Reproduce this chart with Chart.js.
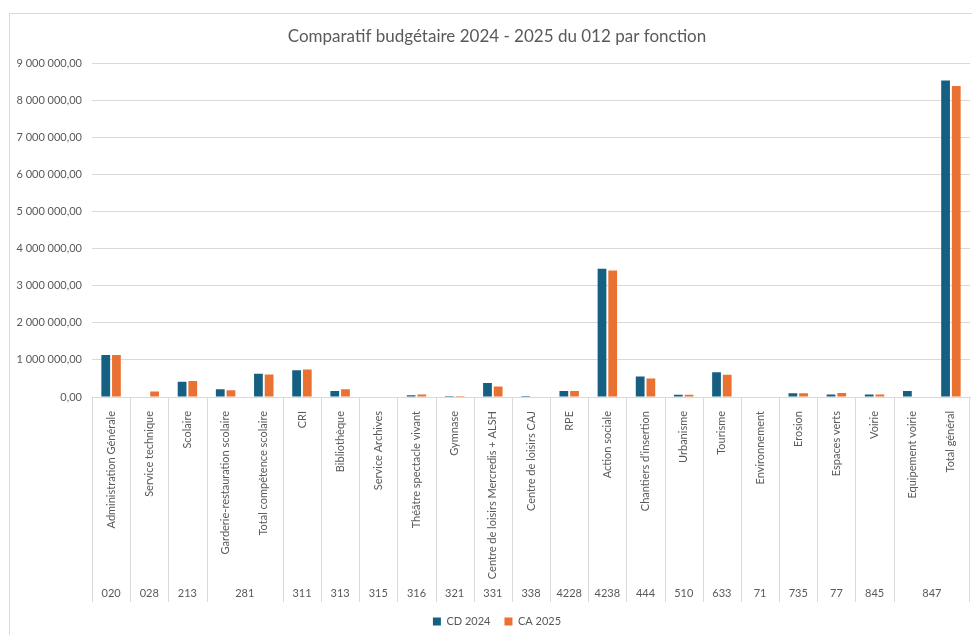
<!DOCTYPE html>
<html>
<head>
<meta charset="utf-8">
<title>Comparatif budgétaire 2024 - 2025</title>
<script src="https://cdn.jsdelivr.net/npm/chart.js@4.4.1/dist/chart.umd.min.js"></script>
<style>
    body { margin: 0; background: #fff; overflow: hidden; }
    .chart-container { position: relative; width: 972px; height: 635px; }
</style>
</head>
<body>
<div class="chart-container">
    <canvas id="budgetChart"></canvas>
</div>
<script>
// Chart data
const categories = [
    'Administration Générale', 'Service technique', 'Scolaire',
    'Garderie-restauration scolaire', 'Total compétence scolaire', 'CRI',
    'Bibliothèque', 'Service Archives', 'Théâtre spectacle vivant', 'Gymnase',
    'Centre de loisirs Mercredis + ALSH', 'Centre de loisirs CAJ', 'RPE',
    'Action sociale', 'Chantiers d\u2019insertion', 'Urbanisme', 'Tourisme',
    'Environnement', 'Erosion', 'Espaces verts', 'Voirie', 'Equipement voirie',
    'Total général'
];
const groupCodes = ['020', '028', '213', '281', '311', '313', '315', '316', '321', '331',
    '338', '4228', '4238', '444', '510', '633', '71', '735', '77', '845', '847'];
const groupSpans = [1, 1, 1, 2, 1, 1, 1, 1, 1, 1, 1, 1, 1, 1, 1, 1, 1, 1, 1, 1, 2];

const cd2024 = [1135000, 0, 410000, 210000, 630000, 720000, 160000, 0, 50000, 30000,
    380000, 30000, 160000, 3460000, 550000, 60000, 670000, 0, 100000, 70000, 70000,
    160000, 8540000];
const ca2025 = [1130000, 150000, 430000, 180000, 610000, 740000, 210000, 0, 70000, 30000,
    280000, 0, 160000, 3410000, 500000, 60000, 600000, 0, 100000, 110000, 70000,
    0, 8390000];

const textColor = '#595959';
const gridColor = '#d9d9d9';
const fontFamily = 'Lato, "Open Sans", sans-serif';

// French number format: 9 000 000,00
function formatAmount(value) {
    const parts = value.toFixed(2).split('.');
    return parts[0].replace(/\B(?=(\d{3})+(?!\d))/g, ' ') + ',' + parts[1];
}

// Frame + white background
const framePlugin = {
    id: 'frame',
    beforeDraw(chart) {
        const ctx = chart.ctx;
        ctx.save();
        ctx.fillStyle = '#fff';
        ctx.fillRect(0, 0, chart.width, chart.height);
        ctx.strokeStyle = gridColor;
        ctx.lineWidth = 1;
        ctx.strokeRect(9.5, 13.5, chart.width + 20, chart.height + 20);
        ctx.restore();
    }
};

// The original frame is wider than the window: centre title & legend on it
const recentrePlugin = {
    id: 'recentre',
    afterLayout(chart) {
        [chart.titleBlock, chart.legend].forEach(box => {
            if (box) {
                box.left += 12;
                box.right += 12;
            }
        });
    }
};

// Second level of the category axis (codes) with separators
const groupAxisPlugin = {
    id: 'groupAxis',
    afterDraw(chart) {
        const x = chart.scales.x;
        const ctx = chart.ctx;
        const half = (x.getPixelForValue(1) - x.getPixelForValue(0)) / 2;
        const top = chart.chartArea.bottom;
        const bottom = x.bottom;
        ctx.save();
        ctx.strokeStyle = gridColor;
        ctx.lineWidth = 1;
        ctx.fillStyle = textColor;
        ctx.font = '11px ' + fontFamily;
        ctx.textAlign = 'center';
        ctx.textBaseline = 'middle';
        let start = 0;
        groupSpans.forEach((span, i) => {
            const left = x.getPixelForValue(start) - half;
            const right = x.getPixelForValue(start + span - 1) + half;
            ctx.beginPath();
            ctx.moveTo(Math.round(left) + 0.5, top);
            ctx.lineTo(Math.round(left) + 0.5, bottom);
            ctx.stroke();
            if (i === groupSpans.length - 1) {
                ctx.beginPath();
                ctx.moveTo(Math.round(right) - 0.5, top);
                ctx.lineTo(Math.round(right) - 0.5, bottom);
                ctx.stroke();
            }
            ctx.fillText(groupCodes[i], (left + right) / 2, bottom - 9);
            start += span;
        });
        ctx.restore();
    }
};

const ctx = document.getElementById('budgetChart').getContext('2d');
const budgetChart = new Chart(ctx, {
    type: 'bar',
    data: {
        labels: categories,
        datasets: [
            {
                label: 'CD 2024',
                data: cd2024,
                backgroundColor: '#156082',
                barPercentage: 0.82,
                categoryPercentage: 0.56
            },
            {
                label: 'CA 2025',
                data: ca2025,
                backgroundColor: '#E97132',
                barPercentage: 0.82,
                categoryPercentage: 0.56
            }
        ]
    },
    options: {
        responsive: true,
        maintainAspectRatio: false,
        animation: false,
        layout: {
            padding: { top: 13, left: 0, right: 2, bottom: -2 }
        },
        scales: {
            x: {
                grid: { display: false },
                border: { display: true, color: gridColor },
                ticks: {
                    autoSkip: false,
                    minRotation: 90,
                    maxRotation: 90,
                    padding: 6,
                    color: textColor,
                    font: { family: fontFamily, size: 11 }
                },
                afterFit(scale) {
                    scale.height = 205;
                }
            },
            y: {
                min: 0,
                max: 9000000,
                grid: { color: gridColor, drawTicks: false },
                border: { display: false },
                ticks: {
                    stepSize: 1000000,
                    padding: 10,
                    color: textColor,
                    font: { family: fontFamily, size: 11 },
                    callback: function(value) {
                        return formatAmount(value);
                    }
                },
                afterFit(scale) {
                    scale.width = 92;
                }
            }
        },
        plugins: {
            title: {
                display: true,
                text: 'Comparatif budgétaire 2024 - 2025 du 012 par fonction',
                color: textColor,
                font: { family: fontFamily, size: 17, weight: 'normal' },
                padding: { top: 13, bottom: 17 }
            },
            legend: {
                position: 'bottom',
                labels: {
                    color: textColor,
                    font: { family: fontFamily, size: 11 },
                    boxWidth: 8,
                    boxHeight: 8,
                    padding: 14
                }
            },
            tooltip: { enabled: false }
        }
    },
    plugins: [framePlugin, recentrePlugin, groupAxisPlugin]
});
</script>
</body>
</html>
